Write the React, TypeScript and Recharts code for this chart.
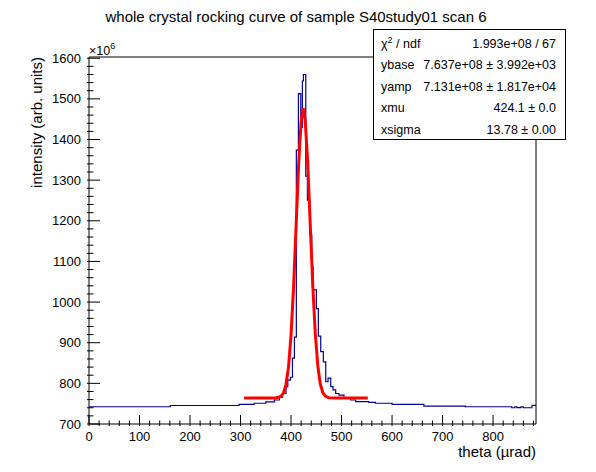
import { ComposedChart, Line, XAxis, YAxis, ReferenceArea } from 'recharts';

// histogram: bin low edges (µrad) and contents (x10^6), last edge closes the final bin
const histEdges = [
  0, 161, 297, 327, 350, 367, 377, 383, 390, 393.6, 398.9, 402.8, 406.7, 410.5,
  414.6, 419.3, 422.5, 424.5, 429.2, 432.4, 437.1, 441, 443.6, 450.2, 454.1,
  458.8, 464, 468.7, 473.3, 478.6, 483.1, 488.4, 495, 504.8, 518, 528, 554, 567,
  600, 663, 745, 837, 843, 847, 855, 860, 877, 885,
];
const histCounts = [
  742.5, 745.5, 748.5, 751, 754.5, 759, 765.5, 775.5, 792, 808, 815, 862, 914,
  1374, 1513, 1430, 1544, 1560, 1310, 1251, 1165, 1087, 1030, 984, 916, 878,
  853, 804, 813, 792, 784, 775, 771, 764, 759, 755, 753, 751, 748.5, 744, 742.5,
  740, 742.5, 740.5, 742, 740, 746,
];

// fitted gaussian + constant
const fitX = [
  307, 370, 380, 385, 390, 395, 400, 405, 410, 415, 420, 424, 428, 433, 438,
  443, 448, 453, 458, 463, 468, 475, 490, 552,
];
const fitY = [
  763.7, 763.9, 768, 776, 797, 840, 918, 1037, 1186, 1337, 1446, 1477, 1449,
  1343, 1192, 1042, 922, 843, 798, 777, 768.5, 764.5, 763.7, 763.7,
];

const xMajorTicks = [0, 100, 200, 300, 400, 500, 600, 700, 800];
const yMajorTicks = [700, 800, 900, 1000, 1100, 1200, 1300, 1400, 1500, 1600];

const statRows = [
  ['ybase', '7.637e+08 ± 3.992e+03'],
  ['yamp', '7.131e+08 ± 1.817e+04'],
  ['xmu', '424.1 ± 0.0'],
  ['xsigma', '13.78 ± 0.00'],
];

const FONT = '"Liberation Sans", Arial, Helvetica, sans-serif';

const histData = histEdges.map((x, i) => ({
  x,
  y: histCounts[Math.min(i, histCounts.length - 1)],
}));
const fitData = fitX.map((x, i) => ({ x, y: fitY[i] }));

// minor ticks every 20 units
const xTicks = Array.from({ length: 45 }, (_, i) => i * 20);
const yTicks = Array.from({ length: 46 }, (_, i) => 700 + i * 20);

const XTick = ({ x, y, payload }: any) => {
  const major = xMajorTicks.includes(payload.value);
  return (
    <g>
      <line x1={x} x2={x} y1={y} y2={y - (major ? 11 : 5.5)} stroke="#000" />
      {major && (
        <text x={x} y={y + 14.5} textAnchor="middle" fontSize={13} fontFamily={FONT} fill="#000">
          {payload.value}
        </text>
      )}
    </g>
  );
};

const YTick = ({ x, y, payload }: any) => {
  const major = yMajorTicks.includes(payload.value);
  return (
    <g>
      <line x1={x} x2={x + (major ? 13 : 6.5)} y1={y} y2={y} stroke="#000" />
      {major && (
        <text x={x - 6} y={y + 4.5} textAnchor="end" fontSize={13} fontFamily={FONT} fill="#000">
          {payload.value}
        </text>
      )}
    </g>
  );
};

export default function App() {
  return (
    <div style={{ position: 'absolute', left: 0, top: 0, width: 596, height: 472, background: '#fff' }}>
      <ComposedChart width={596} height={472} margin={{ top: 57, right: 60, left: 0, bottom: 0 }}>
        <XAxis
          dataKey="x"
          type="number"
          domain={[0, 885]}
          ticks={xTicks}
          interval={0}
          height={48}
          tickSize={0}
          tickLine={false}
          axisLine={false}
          tick={<XTick />}
          allowDataOverflow
        />
        <YAxis
          type="number"
          domain={[700, 1603]}
          ticks={yTicks}
          interval={0}
          width={89}
          tickSize={0}
          tickLine={false}
          axisLine={false}
          tick={<YTick />}
          allowDataOverflow
        />
        <ReferenceArea x1={0} x2={885} y1={700} y2={1603} fill="none" fillOpacity={0} stroke="#000" strokeWidth={1} />
        <Line
          data={histData}
          dataKey="y"
          type="stepAfter"
          stroke="#000099"
          strokeWidth={1.2}
          dot={false}
          activeDot={false}
          isAnimationActive={false}
        />
        <Line
          data={fitData}
          dataKey="y"
          type="linear"
          stroke="#ff0000"
          strokeWidth={3}
          dot={false}
          activeDot={false}
          isAnimationActive={false}
        />
      </ComposedChart>
      <svg
        width={596}
        height={472}
        style={{ position: 'absolute', left: 0, top: 0, pointerEvents: 'none' }}
        fontFamily={FONT}
      >
        <text x={296} y={22} textAnchor="middle" fontSize={15}>
          whole crystal rocking curve of sample S40study01 scan 6
        </text>
        <text x={89} y={55} fontSize={12.5}>
          ×10<tspan fontSize={9} dy={-6}>6</tspan>
        </text>
        <text x={42} y={57} textAnchor="end" fontSize={15} transform="rotate(-90 42 57)">
          intensity (arb. units)
        </text>
        <text x={536} y={457} textAnchor="end" fontSize={15}>
          theta (µrad)
        </text>
        <rect x={373.5} y={29.5} width={192} height={110} fill="#fff" stroke="#000" />
        <text x={381} y={47.5} fontSize={12.5}>
          χ<tspan fontSize={9} dy={-5}>2</tspan>
          <tspan dy={5}> / ndf</tspan>
        </text>
        <text x={556} y={47.5} textAnchor="end" fontSize={12.5}>
          1.993e+08 / 67
        </text>
        {statRows.map(([name, val], i) => (
          <g key={name}>
            <text x={381} y={69 + i * 21.5} fontSize={12.5}>
              {name}
            </text>
            <text x={556} y={69 + i * 21.5} textAnchor="end" fontSize={12.5}>
              {val}
            </text>
          </g>
        ))}
      </svg>
    </div>
  );
}
